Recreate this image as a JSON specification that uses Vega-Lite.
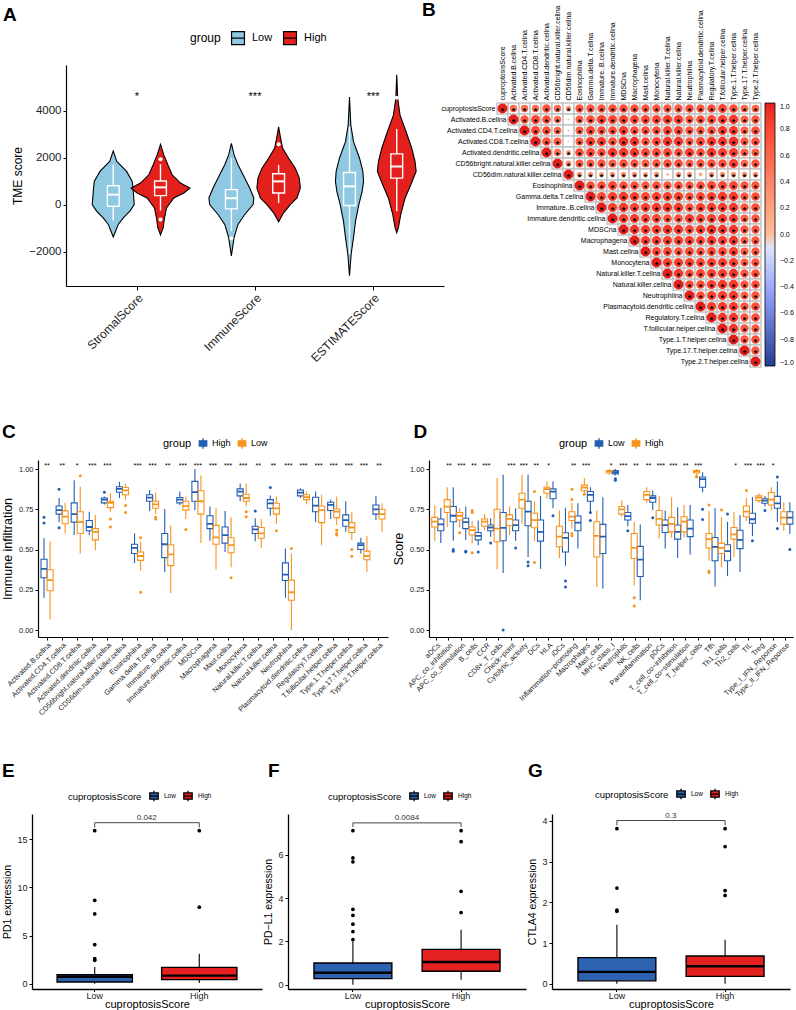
{
  "$schema": "https://vega.github.io/schema/vega-lite/v6.json",
  "autosize": {"type": "pad"},
  "padding": {"left": 0, "top": 1, "right": 0, "bottom": 0},
  "config": {
    "font": "Liberation Sans",
    "view": {"stroke": null},
    "axis": {"grid": false, "domainColor": "black", "tickColor": "black", "labelColor": "#222", "titleColor": "black", "titleFontWeight": "normal", "labelFont": "Liberation Sans", "titleFont": "Liberation Sans"},
    "legend": {"titleFontWeight": "normal", "labelFont": "Liberation Sans", "titleFont": "Liberation Sans", "titleColor": "black", "labelColor": "black"}
  },
  "datasets": {
    "Avio": [
      {"cat": "StromalScore", "grp": "Low", "y": 2295, "w": 0}, {"cat": "StromalScore", "grp": "Low", "y": 1845, "w": 0.03}, {"cat": "StromalScore", "grp": "Low", "y": 1422, "w": 0.113}, {"cat": "StromalScore", "grp": "Low", "y": 1000, "w": 0.161}, {"cat": "StromalScore", "grp": "Low", "y": 577, "w": 0.169}, {"cat": "StromalScore", "grp": "Low", "y": 14, "w": 0.178}, {"cat": "StromalScore", "grp": "Low", "y": -267, "w": 0.141}, {"cat": "StromalScore", "grp": "Low", "y": -549, "w": 0.085}, {"cat": "StromalScore", "grp": "Low", "y": -830, "w": 0.042}, {"cat": "StromalScore", "grp": "Low", "y": -1112, "w": 0.02}, {"cat": "StromalScore", "grp": "Low", "y": -1366, "w": 0},
      {"cat": "StromalScore", "grp": "High", "y": 2577, "w": 0}, {"cat": "StromalScore", "grp": "High", "y": 2126, "w": 0.028}, {"cat": "StromalScore", "grp": "High", "y": 1704, "w": 0.062}, {"cat": "StromalScore", "grp": "High", "y": 1281, "w": 0.099}, {"cat": "StromalScore", "grp": "High", "y": 930, "w": 0.169}, {"cat": "StromalScore", "grp": "High", "y": 718, "w": 0.249}, {"cat": "StromalScore", "grp": "High", "y": 507, "w": 0.198}, {"cat": "StromalScore", "grp": "High", "y": 296, "w": 0.113}, {"cat": "StromalScore", "grp": "High", "y": -127, "w": 0.051}, {"cat": "StromalScore", "grp": "High", "y": -549, "w": 0.034}, {"cat": "StromalScore", "grp": "High", "y": -971, "w": 0.023}, {"cat": "StromalScore", "grp": "High", "y": -1281, "w": 0},
      {"cat": "ImmuneScore", "grp": "Low", "y": 2619, "w": 0}, {"cat": "ImmuneScore", "grp": "Low", "y": 2126, "w": 0.023}, {"cat": "ImmuneScore", "grp": "Low", "y": 1704, "w": 0.056}, {"cat": "ImmuneScore", "grp": "Low", "y": 1281, "w": 0.099}, {"cat": "ImmuneScore", "grp": "Low", "y": 718, "w": 0.155}, {"cat": "ImmuneScore", "grp": "Low", "y": 296, "w": 0.19}, {"cat": "ImmuneScore", "grp": "Low", "y": 14, "w": 0.184}, {"cat": "ImmuneScore", "grp": "Low", "y": -408, "w": 0.113}, {"cat": "ImmuneScore", "grp": "Low", "y": -830, "w": 0.056}, {"cat": "ImmuneScore", "grp": "Low", "y": -1394, "w": 0.023}, {"cat": "ImmuneScore", "grp": "Low", "y": -2168, "w": 0},
      {"cat": "ImmuneScore", "grp": "High", "y": 3323, "w": 0}, {"cat": "ImmuneScore", "grp": "High", "y": 2830, "w": 0.017}, {"cat": "ImmuneScore", "grp": "High", "y": 2408, "w": 0.034}, {"cat": "ImmuneScore", "grp": "High", "y": 1985, "w": 0.085}, {"cat": "ImmuneScore", "grp": "High", "y": 1563, "w": 0.141}, {"cat": "ImmuneScore", "grp": "High", "y": 1140, "w": 0.175}, {"cat": "ImmuneScore", "grp": "High", "y": 718, "w": 0.184}, {"cat": "ImmuneScore", "grp": "High", "y": 296, "w": 0.155}, {"cat": "ImmuneScore", "grp": "High", "y": 14, "w": 0.099}, {"cat": "ImmuneScore", "grp": "High", "y": -338, "w": 0.042}, {"cat": "ImmuneScore", "grp": "High", "y": -718, "w": 0},
      {"cat": "ESTIMATEScore", "grp": "Low", "y": 4590, "w": 0}, {"cat": "ESTIMATEScore", "grp": "Low", "y": 3393, "w": 0.011}, {"cat": "ESTIMATEScore", "grp": "Low", "y": 2689, "w": 0.034}, {"cat": "ESTIMATEScore", "grp": "Low", "y": 1985, "w": 0.085}, {"cat": "ESTIMATEScore", "grp": "Low", "y": 1422, "w": 0.113}, {"cat": "ESTIMATEScore", "grp": "Low", "y": 1000, "w": 0.119}, {"cat": "ESTIMATEScore", "grp": "Low", "y": 577, "w": 0.107}, {"cat": "ESTIMATEScore", "grp": "Low", "y": 14, "w": 0.079}, {"cat": "ESTIMATEScore", "grp": "Low", "y": -690, "w": 0.051}, {"cat": "ESTIMATEScore", "grp": "Low", "y": -1394, "w": 0.034}, {"cat": "ESTIMATEScore", "grp": "Low", "y": -2098, "w": 0.014}, {"cat": "ESTIMATEScore", "grp": "Low", "y": -3013, "w": 0},
      {"cat": "ESTIMATEScore", "grp": "High", "y": 5533, "w": 0}, {"cat": "ESTIMATEScore", "grp": "High", "y": 4520, "w": 0.008}, {"cat": "ESTIMATEScore", "grp": "High", "y": 3816, "w": 0.028}, {"cat": "ESTIMATEScore", "grp": "High", "y": 3112, "w": 0.079}, {"cat": "ESTIMATEScore", "grp": "High", "y": 2408, "w": 0.127}, {"cat": "ESTIMATEScore", "grp": "High", "y": 1845, "w": 0.155}, {"cat": "ESTIMATEScore", "grp": "High", "y": 1422, "w": 0.164}, {"cat": "ESTIMATEScore", "grp": "High", "y": 859, "w": 0.119}, {"cat": "ESTIMATEScore", "grp": "High", "y": 296, "w": 0.071}, {"cat": "ESTIMATEScore", "grp": "High", "y": -408, "w": 0.034}, {"cat": "ESTIMATEScore", "grp": "High", "y": -971, "w": 0.014}, {"cat": "ESTIMATEScore", "grp": "High", "y": -1183, "w": 0}
    ],
    "Abox": [
      {"cat": "StromalScore", "grp": "Low", "lo": -662, "q1": -56, "m": 436, "q3": 817, "hi": 1704},
      {"cat": "StromalScore", "grp": "High", "lo": -239, "q1": 394, "m": 746, "q3": 1014, "hi": 1732},
      {"cat": "ImmuneScore", "grp": "Low", "lo": -1112, "q1": -169, "m": 282, "q3": 648, "hi": 1985},
      {"cat": "ImmuneScore", "grp": "High", "lo": 84, "q1": 507, "m": 1000, "q3": 1323, "hi": 1704},
      {"cat": "ESTIMATEScore", "grp": "Low", "lo": -2098, "q1": -28, "m": 789, "q3": 1380, "hi": 3323},
      {"cat": "ESTIMATEScore", "grp": "High", "lo": -268, "q1": 1140, "m": 1633, "q3": 2168, "hi": 3224}
    ],
    "Aout": [
      {"cat": "StromalScore", "grp": "High", "v": 1943}, {"cat": "StromalScore", "grp": "High", "v": -620},
      {"cat": "ImmuneScore", "grp": "Low", "v": -1422}, {"cat": "ImmuneScore", "grp": "High", "v": 2577},
      {"cat": "ESTIMATEScore", "grp": "High", "v": 4562}
    ],
    "names": [
      {"i": 0, "n": "cuproptosisScore"}, {"i": 1, "n": "Activated.B.cellna"}, {"i": 2, "n": "Activated.CD4.T.cellna"}, {"i": 3, "n": "Activated.CD8.T.cellna"}, {"i": 4, "n": "Activated.dendritic.cellna"}, {"i": 5, "n": "CD56bright.natural.killer.cellna"}, {"i": 6, "n": "CD56dim.natural.killer.cellna"}, {"i": 7, "n": "Eosinophilna"}, {"i": 8, "n": "Gamma.delta.T.cellna"}, {"i": 9, "n": "Immature..B.cellna"}, {"i": 10, "n": "Immature.dendritic.cellna"}, {"i": 11, "n": "MDSCna"}, {"i": 12, "n": "Macrophagena"}, {"i": 13, "n": "Mast.cellna"}, {"i": 14, "n": "Monocytena"}, {"i": 15, "n": "Natural.killer.T.cellna"}, {"i": 16, "n": "Natural.killer.cellna"}, {"i": 17, "n": "Neutrophilna"}, {"i": 18, "n": "Plasmacytoid.dendritic.cellna"}, {"i": 19, "n": "Regulatory.T.cellna"}, {"i": 20, "n": "T.follicular.helper.cellna"}, {"i": 21, "n": "Type.1.T.helper.cellna"}, {"i": 22, "n": "Type.17.T.helper.cellna"}, {"i": 23, "n": "Type.2.T.helper.cellna"}
    ],
    "corr": [
      {"i":0,"j":0,"r":1},{"i":0,"j":1,"r":0.55},{"i":0,"j":2,"r":0.55},{"i":0,"j":3,"r":0.55},{"i":0,"j":4,"r":0.7},{"i":0,"j":5,"r":0.55},{"i":0,"j":6,"r":0.3},{"i":0,"j":7,"r":0.7},{"i":0,"j":8,"r":0.7},{"i":0,"j":9,"r":0.7},{"i":0,"j":10,"r":0.75},{"i":0,"j":11,"r":0.75},{"i":0,"j":12,"r":0.75},{"i":0,"j":13,"r":0.7},{"i":0,"j":14,"r":0.7},{"i":0,"j":15,"r":0.7},{"i":0,"j":16,"r":0.7},{"i":0,"j":17,"r":0.75},{"i":0,"j":18,"r":0.7},{"i":0,"j":19,"r":0.75},{"i":0,"j":20,"r":0.8},{"i":0,"j":21,"r":0.75},{"i":0,"j":22,"r":0.6},{"i":0,"j":23,"r":0.6},
      {"i":1,"j":1,"r":1},{"i":1,"j":2,"r":0.7},{"i":1,"j":3,"r":0.8},{"i":1,"j":4,"r":0.75},{"i":1,"j":5,"r":0.55},{"i":1,"j":6,"r":0.05,"ns":1},{"i":1,"j":7,"r":0.65},{"i":1,"j":8,"r":0.75},{"i":1,"j":9,"r":0.85},{"i":1,"j":10,"r":0.8},{"i":1,"j":11,"r":0.85},{"i":1,"j":12,"r":0.8},{"i":1,"j":13,"r":0.8},{"i":1,"j":14,"r":0.8},{"i":1,"j":15,"r":0.85},{"i":1,"j":16,"r":0.85},{"i":1,"j":17,"r":0.7},{"i":1,"j":18,"r":0.75},{"i":1,"j":19,"r":0.8},{"i":1,"j":20,"r":0.85},{"i":1,"j":21,"r":0.88},{"i":1,"j":22,"r":0.65},{"i":1,"j":23,"r":0.7},
      {"i":2,"j":2,"r":1},{"i":2,"j":3,"r":0.8},{"i":2,"j":4,"r":0.75},{"i":2,"j":5,"r":0.6},{"i":2,"j":6,"r":0.05,"ns":1},{"i":2,"j":7,"r":0.65},{"i":2,"j":8,"r":0.8},{"i":2,"j":9,"r":0.75},{"i":2,"j":10,"r":0.75},{"i":2,"j":11,"r":0.85},{"i":2,"j":12,"r":0.75},{"i":2,"j":13,"r":0.75},{"i":2,"j":14,"r":0.75},{"i":2,"j":15,"r":0.8},{"i":2,"j":16,"r":0.8},{"i":2,"j":17,"r":0.7},{"i":2,"j":18,"r":0.7},{"i":2,"j":19,"r":0.75},{"i":2,"j":20,"r":0.85},{"i":2,"j":21,"r":0.85},{"i":2,"j":22,"r":0.65},{"i":2,"j":23,"r":0.75},
      {"i":3,"j":3,"r":1},{"i":3,"j":4,"r":0.75},{"i":3,"j":5,"r":0.65},{"i":3,"j":6,"r":0.03,"ns":1},{"i":3,"j":7,"r":0.65},{"i":3,"j":8,"r":0.85},{"i":3,"j":9,"r":0.85},{"i":3,"j":10,"r":0.75},{"i":3,"j":11,"r":0.92},{"i":3,"j":12,"r":0.88},{"i":3,"j":13,"r":0.75},{"i":3,"j":14,"r":0.8},{"i":3,"j":15,"r":0.88},{"i":3,"j":16,"r":0.88},{"i":3,"j":17,"r":0.7},{"i":3,"j":18,"r":0.8},{"i":3,"j":19,"r":0.88},{"i":3,"j":20,"r":0.88},{"i":3,"j":21,"r":0.92},{"i":3,"j":22,"r":0.7},{"i":3,"j":23,"r":0.75},
      {"i":4,"j":4,"r":1},{"i":4,"j":5,"r":0.55},{"i":4,"j":6,"r":0.25},{"i":4,"j":7,"r":0.75},{"i":4,"j":8,"r":0.8},{"i":4,"j":9,"r":0.75},{"i":4,"j":10,"r":0.88},{"i":4,"j":11,"r":0.88},{"i":4,"j":12,"r":0.88},{"i":4,"j":13,"r":0.8},{"i":4,"j":14,"r":0.8},{"i":4,"j":15,"r":0.8},{"i":4,"j":16,"r":0.75},{"i":4,"j":17,"r":0.85},{"i":4,"j":18,"r":0.75},{"i":4,"j":19,"r":0.88},{"i":4,"j":20,"r":0.85},{"i":4,"j":21,"r":0.85},{"i":4,"j":22,"r":0.65},{"i":4,"j":23,"r":0.65},
      {"i":5,"j":5,"r":1},{"i":5,"j":6,"r":0.35},{"i":5,"j":7,"r":0.65},{"i":5,"j":8,"r":0.65},{"i":5,"j":9,"r":0.7},{"i":5,"j":10,"r":0.65},{"i":5,"j":11,"r":0.75},{"i":5,"j":12,"r":0.7},{"i":5,"j":13,"r":0.65},{"i":5,"j":14,"r":0.7},{"i":5,"j":15,"r":0.75},{"i":5,"j":16,"r":0.75},{"i":5,"j":17,"r":0.65},{"i":5,"j":18,"r":0.7},{"i":5,"j":19,"r":0.75},{"i":5,"j":20,"r":0.75},{"i":5,"j":21,"r":0.85},{"i":5,"j":22,"r":0.6},{"i":5,"j":23,"r":0.7},
      {"i":6,"j":6,"r":1},{"i":6,"j":7,"r":0.3},{"i":6,"j":8,"r":0.3},{"i":6,"j":9,"r":0.25},{"i":6,"j":10,"r":0.3},{"i":6,"j":11,"r":0.3},{"i":6,"j":12,"r":0.3},{"i":6,"j":13,"r":0.25},{"i":6,"j":14,"r":0.3},{"i":6,"j":15,"r":0.08,"ns":1},{"i":6,"j":16,"r":0.3},{"i":6,"j":17,"r":0.3},{"i":6,"j":18,"r":0.15,"ns":1},{"i":6,"j":19,"r":0.3},{"i":6,"j":20,"r":0.3},{"i":6,"j":21,"r":0.3},{"i":6,"j":22,"r":0.3},{"i":6,"j":23,"r":0.3},
      {"i":7,"j":7,"r":1},{"i":7,"j":8,"r":0.75},{"i":7,"j":9,"r":0.75},{"i":7,"j":10,"r":0.8},{"i":7,"j":11,"r":0.75},{"i":7,"j":12,"r":0.75},{"i":7,"j":13,"r":0.7},{"i":7,"j":14,"r":0.75},{"i":7,"j":15,"r":0.7},{"i":7,"j":16,"r":0.75},{"i":7,"j":17,"r":0.7},{"i":7,"j":18,"r":0.75},{"i":7,"j":19,"r":0.8},{"i":7,"j":20,"r":0.8},{"i":7,"j":21,"r":0.8},{"i":7,"j":22,"r":0.7},{"i":7,"j":23,"r":0.7},
      {"i":8,"j":8,"r":1},{"i":8,"j":9,"r":0.8},{"i":8,"j":10,"r":0.85},{"i":8,"j":11,"r":0.88},{"i":8,"j":12,"r":0.85},{"i":8,"j":13,"r":0.8},{"i":8,"j":14,"r":0.85},{"i":8,"j":15,"r":0.85},{"i":8,"j":16,"r":0.85},{"i":8,"j":17,"r":0.75},{"i":8,"j":18,"r":0.8},{"i":8,"j":19,"r":0.85},{"i":8,"j":20,"r":0.88},{"i":8,"j":21,"r":0.88},{"i":8,"j":22,"r":0.7},{"i":8,"j":23,"r":0.75},
      {"i":9,"j":9,"r":1},{"i":9,"j":10,"r":0.85},{"i":9,"j":11,"r":0.88},{"i":9,"j":12,"r":0.85},{"i":9,"j":13,"r":0.85},{"i":9,"j":14,"r":0.88},{"i":9,"j":15,"r":0.88},{"i":9,"j":16,"r":0.88},{"i":9,"j":17,"r":0.75},{"i":9,"j":18,"r":0.85},{"i":9,"j":19,"r":0.88},{"i":9,"j":20,"r":0.88},{"i":9,"j":21,"r":0.88},{"i":9,"j":22,"r":0.7},{"i":9,"j":23,"r":0.75},
      {"i":10,"j":10,"r":1},{"i":10,"j":11,"r":0.85},{"i":10,"j":12,"r":0.85},{"i":10,"j":13,"r":0.8},{"i":10,"j":14,"r":0.8},{"i":10,"j":15,"r":0.75},{"i":10,"j":16,"r":0.75},{"i":10,"j":17,"r":0.85},{"i":10,"j":18,"r":0.8},{"i":10,"j":19,"r":0.85},{"i":10,"j":20,"r":0.85},{"i":10,"j":21,"r":0.85},{"i":10,"j":22,"r":0.65},{"i":10,"j":23,"r":0.7},
      {"i":11,"j":11,"r":1},{"i":11,"j":12,"r":0.88},{"i":11,"j":13,"r":0.85},{"i":11,"j":14,"r":0.85},{"i":11,"j":15,"r":0.88},{"i":11,"j":16,"r":0.88},{"i":11,"j":17,"r":0.8},{"i":11,"j":18,"r":0.85},{"i":11,"j":19,"r":0.92},{"i":11,"j":20,"r":0.88},{"i":11,"j":21,"r":0.88},{"i":11,"j":22,"r":0.7},{"i":11,"j":23,"r":0.7},
      {"i":12,"j":12,"r":1},{"i":12,"j":13,"r":0.85},{"i":12,"j":14,"r":0.85},{"i":12,"j":15,"r":0.85},{"i":12,"j":16,"r":0.85},{"i":12,"j":17,"r":0.85},{"i":12,"j":18,"r":0.8},{"i":12,"j":19,"r":0.88},{"i":12,"j":20,"r":0.85},{"i":12,"j":21,"r":0.88},{"i":12,"j":22,"r":0.65},{"i":12,"j":23,"r":0.7},
      {"i":13,"j":13,"r":1},{"i":13,"j":14,"r":0.8},{"i":13,"j":15,"r":0.8},{"i":13,"j":16,"r":0.75},{"i":13,"j":17,"r":0.8},{"i":13,"j":18,"r":0.75},{"i":13,"j":19,"r":0.8},{"i":13,"j":20,"r":0.8},{"i":13,"j":21,"r":0.85},{"i":13,"j":22,"r":0.65},{"i":13,"j":23,"r":0.7},
      {"i":14,"j":14,"r":1},{"i":14,"j":15,"r":0.85},{"i":14,"j":16,"r":0.85},{"i":14,"j":17,"r":0.85},{"i":14,"j":18,"r":0.8},{"i":14,"j":19,"r":0.85},{"i":14,"j":20,"r":0.85},{"i":14,"j":21,"r":0.85},{"i":14,"j":22,"r":0.65},{"i":14,"j":23,"r":0.7},
      {"i":15,"j":15,"r":1},{"i":15,"j":16,"r":0.88},{"i":15,"j":17,"r":0.75},{"i":15,"j":18,"r":0.8},{"i":15,"j":19,"r":0.85},{"i":15,"j":20,"r":0.85},{"i":15,"j":21,"r":0.88},{"i":15,"j":22,"r":0.7},{"i":15,"j":23,"r":0.75},
      {"i":16,"j":16,"r":1},{"i":16,"j":17,"r":0.75},{"i":16,"j":18,"r":0.75},{"i":16,"j":19,"r":0.85},{"i":16,"j":20,"r":0.88},{"i":16,"j":21,"r":0.88},{"i":16,"j":22,"r":0.7},{"i":16,"j":23,"r":0.75},
      {"i":17,"j":17,"r":1},{"i":17,"j":18,"r":0.75},{"i":17,"j":19,"r":0.85},{"i":17,"j":20,"r":0.85},{"i":17,"j":21,"r":0.88},{"i":17,"j":22,"r":0.65},{"i":17,"j":23,"r":0.7},
      {"i":18,"j":18,"r":1},{"i":18,"j":19,"r":0.85},{"i":18,"j":20,"r":0.85},{"i":18,"j":21,"r":0.85},{"i":18,"j":22,"r":0.7},{"i":18,"j":23,"r":0.75},
      {"i":19,"j":19,"r":1},{"i":19,"j":20,"r":0.88},{"i":19,"j":21,"r":0.88},{"i":19,"j":22,"r":0.7},{"i":19,"j":23,"r":0.75},
      {"i":20,"j":20,"r":1},{"i":20,"j":21,"r":0.88},{"i":20,"j":22,"r":0.7},{"i":20,"j":23,"r":0.7},
      {"i":21,"j":21,"r":1},{"i":21,"j":22,"r":0.7},{"i":21,"j":23,"r":0.75},
      {"i":22,"j":22,"r":1},{"i":22,"j":23,"r":0.7},
      {"i":23,"j":23,"r":1}
    ],
    "Cbox": [
      {"c":"Activated.B.cellna","g":"High","lo":0.2,"q1":0.325,"m":0.38,"q3":0.44,"hi":0.57},{"c":"Activated.B.cellna","g":"Low","lo":0.065,"q1":0.244,"m":0.31,"q3":0.375,"hi":0.55},
      {"c":"Activated.CD4.T.cellna","g":"High","lo":0.67,"q1":0.72,"m":0.745,"q3":0.77,"hi":0.82},{"c":"Activated.CD4.T.cellna","g":"Low","lo":0.6,"q1":0.66,"m":0.705,"q3":0.74,"hi":0.79},
      {"c":"Activated.CD8.T.cellna","g":"High","lo":0.59,"q1":0.67,"m":0.72,"q3":0.79,"hi":0.93},{"c":"Activated.CD8.T.cellna","g":"Low","lo":0.475,"q1":0.6,"m":0.67,"q3":0.735,"hi":0.89},
      {"c":"Activated.dendritic.cellna","g":"High","lo":0.59,"q1":0.617,"m":0.64,"q3":0.68,"hi":0.735},{"c":"Activated.dendritic.cellna","g":"Low","lo":0.495,"q1":0.56,"m":0.61,"q3":0.63,"hi":0.715},
      {"c":"CD56bright.natural.killer.cellna","g":"High","lo":0.78,"q1":0.79,"m":0.81,"q3":0.82,"hi":0.83},{"c":"CD56bright.natural.killer.cellna","g":"Low","lo":0.735,"q1":0.76,"m":0.79,"q3":0.8,"hi":0.85},
      {"c":"CD56dim.natural.killer.cellna","g":"High","lo":0.82,"q1":0.856,"m":0.877,"q3":0.89,"hi":0.92},{"c":"CD56dim.natural.killer.cellna","g":"Low","lo":0.81,"q1":0.84,"m":0.867,"q3":0.885,"hi":0.91},
      {"c":"Eosinophilna","g":"High","lo":0.417,"q1":0.475,"m":0.51,"q3":0.533,"hi":0.6},{"c":"Eosinophilna","g":"Low","lo":0.37,"q1":0.433,"m":0.46,"q3":0.485,"hi":0.55},
      {"c":"Gamma.delta.T.cellna","g":"High","lo":0.74,"q1":0.8,"m":0.823,"q3":0.84,"hi":0.87},{"c":"Gamma.delta.T.cellna","g":"Low","lo":0.72,"q1":0.756,"m":0.78,"q3":0.8,"hi":0.854},
      {"c":"Immature..B.cellna","g":"High","lo":0.36,"q1":0.45,"m":0.533,"q3":0.6,"hi":0.752},{"c":"Immature..B.cellna","g":"Low","lo":0.23,"q1":0.4,"m":0.47,"q3":0.53,"hi":0.65},
      {"c":"Immature.dendritic.cellna","g":"High","lo":0.777,"q1":0.79,"m":0.81,"q3":0.823,"hi":0.86},{"c":"Immature.dendritic.cellna","g":"Low","lo":0.69,"q1":0.745,"m":0.77,"q3":0.8,"hi":0.83},
      {"c":"MDSCna","g":"High","lo":0.745,"q1":0.8,"m":0.856,"q3":0.923,"hi":1.0},{"c":"MDSCna","g":"Low","lo":0.54,"q1":0.72,"m":0.8,"q3":0.865,"hi":0.96},
      {"c":"Macrophagena","g":"High","lo":0.555,"q1":0.63,"m":0.66,"q3":0.71,"hi":0.767},{"c":"Macrophagena","g":"Low","lo":0.375,"q1":0.533,"m":0.575,"q3":0.65,"hi":0.76},
      {"c":"Mast.cellna","g":"High","lo":0.485,"q1":0.54,"m":0.59,"q3":0.64,"hi":0.74},{"c":"Mast.cellna","g":"Low","lo":0.39,"q1":0.48,"m":0.527,"q3":0.573,"hi":0.7},
      {"c":"Monocytena","g":"High","lo":0.8,"q1":0.833,"m":0.86,"q3":0.877,"hi":0.91},{"c":"Monocytena","g":"Low","lo":0.767,"q1":0.8,"m":0.82,"q3":0.843,"hi":0.91},
      {"c":"Natural.killer.T.cellna","g":"High","lo":0.552,"q1":0.6,"m":0.625,"q3":0.645,"hi":0.695},{"c":"Natural.killer.T.cellna","g":"Low","lo":0.51,"q1":0.57,"m":0.6,"q3":0.637,"hi":0.69},
      {"c":"Natural.killer.cellna","g":"High","lo":0.71,"q1":0.756,"m":0.787,"q3":0.81,"hi":0.835},{"c":"Natural.killer.cellna","g":"Low","lo":0.66,"q1":0.72,"m":0.756,"q3":0.787,"hi":0.83},
      {"c":"Neutrophilna","g":"High","lo":0.2,"q1":0.308,"m":0.344,"q3":0.417,"hi":0.506},{"c":"Neutrophilna","g":"Low","lo":0.0,"q1":0.185,"m":0.235,"q3":0.31,"hi":0.475},
      {"c":"Plasmacytoid.dendritic.cellna","g":"High","lo":0.82,"q1":0.833,"m":0.854,"q3":0.87,"hi":0.88},{"c":"Plasmacytoid.dendritic.cellna","g":"Low","lo":0.78,"q1":0.81,"m":0.825,"q3":0.84,"hi":0.86},
      {"c":"Regulatory.T.cellna","g":"High","lo":0.67,"q1":0.735,"m":0.773,"q3":0.825,"hi":0.86},{"c":"Regulatory.T.cellna","g":"Low","lo":0.527,"q1":0.667,"m":0.745,"q3":0.77,"hi":0.84},
      {"c":"T.follicular.helper.cellna","g":"High","lo":0.69,"q1":0.742,"m":0.777,"q3":0.794,"hi":0.81},{"c":"T.follicular.helper.cellna","g":"Low","lo":0.652,"q1":0.698,"m":0.735,"q3":0.752,"hi":0.83},
      {"c":"Type.1.T.helper.cellna","g":"High","lo":0.61,"q1":0.645,"m":0.683,"q3":0.715,"hi":0.8},{"c":"Type.1.T.helper.cellna","g":"Low","lo":0.56,"q1":0.606,"m":0.637,"q3":0.667,"hi":0.735},
      {"c":"Type.17.T.helper.cellna","g":"High","lo":0.475,"q1":0.5,"m":0.527,"q3":0.54,"hi":0.573},{"c":"Type.17.T.helper.cellna","g":"Low","lo":0.36,"q1":0.437,"m":0.46,"q3":0.49,"hi":0.585},
      {"c":"Type.2.T.helper.cellna","g":"High","lo":0.683,"q1":0.72,"m":0.75,"q3":0.777,"hi":0.833},{"c":"Type.2.T.helper.cellna","g":"Low","lo":0.61,"q1":0.69,"m":0.72,"q3":0.75,"hi":0.787}
    ],
    "Cout": [
      {"c":"Activated.B.cellna","g":"High","v":0.7},{"c":"Activated.B.cellna","g":"High","v":0.665},
      {"c":"Activated.CD4.T.cellna","g":"High","v":0.875},{"c":"Activated.CD4.T.cellna","g":"High","v":0.635},
      {"c":"Activated.CD8.T.cellna","g":"Low","v":0.958},
      {"c":"CD56bright.natural.killer.cellna","g":"High","v":0.856},{"c":"CD56bright.natural.killer.cellna","g":"Low","v":0.69},{"c":"CD56bright.natural.killer.cellna","g":"Low","v":0.64},
      {"c":"CD56dim.natural.killer.cellna","g":"Low","v":0.773},{"c":"CD56dim.natural.killer.cellna","g":"Low","v":0.73},
      {"c":"Eosinophilna","g":"Low","v":0.573},{"c":"Eosinophilna","g":"Low","v":0.235},
      {"c":"Gamma.delta.T.cellna","g":"Low","v":0.7},{"c":"Gamma.delta.T.cellna","g":"Low","v":0.69},
      {"c":"Immature.dendritic.cellna","g":"Low","v":0.625},
      {"c":"Mast.cellna","g":"Low","v":0.325},
      {"c":"Monocytena","g":"Low","v":0.735},{"c":"Monocytena","g":"Low","v":0.704},
      {"c":"Natural.killer.T.cellna","g":"High","v":0.74},
      {"c":"Natural.killer.cellna","g":"High","v":0.885},{"c":"Natural.killer.cellna","g":"Low","v":0.617},
      {"c":"Neutrophilna","g":"Low","v":0.506},
      {"c":"T.follicular.helper.cellna","g":"Low","v":0.62},{"c":"T.follicular.helper.cellna","g":"Low","v":0.6},{"c":"T.follicular.helper.cellna","g":"Low","v":0.59},
      {"c":"Type.1.T.helper.cellna","g":"Low","v":0.5},{"c":"Type.1.T.helper.cellna","g":"Low","v":0.458}
    ],
    "Cstar": [
      {"c":"Activated.B.cellna","s":"**"},{"c":"Activated.CD4.T.cellna","s":"**"},{"c":"Activated.CD8.T.cellna","s":"*"},{"c":"Activated.dendritic.cellna","s":"***"},{"c":"CD56bright.natural.killer.cellna","s":"***"},{"c":"Eosinophilna","s":"***"},{"c":"Gamma.delta.T.cellna","s":"***"},{"c":"Immature..B.cellna","s":"**"},{"c":"Immature.dendritic.cellna","s":"***"},{"c":"MDSCna","s":"***"},{"c":"Macrophagena","s":"***"},{"c":"Mast.cellna","s":"***"},{"c":"Monocytena","s":"***"},{"c":"Natural.killer.T.cellna","s":"**"},{"c":"Natural.killer.cellna","s":"**"},{"c":"Neutrophilna","s":"***"},{"c":"Plasmacytoid.dendritic.cellna","s":"***"},{"c":"Regulatory.T.cellna","s":"***"},{"c":"T.follicular.helper.cellna","s":"***"},{"c":"Type.1.T.helper.cellna","s":"***"},{"c":"Type.17.T.helper.cellna","s":"***"},{"c":"Type.2.T.helper.cellna","s":"**"}
    ],
    "Dbox": [
      {"c":"aDCs","g":"Low","lo":0.54,"q1":0.617,"m":0.656,"q3":0.69,"hi":0.76},{"c":"aDCs","g":"High","lo":0.555,"q1":0.64,"m":0.673,"q3":0.7,"hi":0.773},
      {"c":"APC_co_inhibition","g":"Low","lo":0.555,"q1":0.673,"m":0.71,"q3":0.767,"hi":0.887},{"c":"APC_co_inhibition","g":"High","lo":0.64,"q1":0.73,"m":0.767,"q3":0.81,"hi":0.887},
      {"c":"APC_co_stimulation","g":"Low","lo":0.56,"q1":0.63,"m":0.67,"q3":0.694,"hi":0.767},{"c":"APC_co_stimulation","g":"High","lo":0.638,"q1":0.683,"m":0.71,"q3":0.73,"hi":0.756},
      {"c":"B_cells","g":"Low","lo":0.527,"q1":0.56,"m":0.585,"q3":0.606,"hi":0.68},{"c":"B_cells","g":"High","lo":0.537,"q1":0.59,"m":0.62,"q3":0.64,"hi":0.677},
      {"c":"CCR","g":"Low","lo":0.58,"q1":0.617,"m":0.637,"q3":0.652,"hi":0.694},{"c":"CCR","g":"High","lo":0.62,"q1":0.645,"m":0.673,"q3":0.69,"hi":0.72},
      {"c":"CD8+_T_cells","g":"Low","lo":0.354,"q1":0.555,"m":0.635,"q3":0.73,"hi":0.965},{"c":"CD8+_T_cells","g":"High","lo":0.377,"q1":0.548,"m":0.63,"q3":0.75,"hi":0.944},
      {"c":"Check−point","g":"Low","lo":0.555,"q1":0.617,"m":0.652,"q3":0.683,"hi":0.756},{"c":"Check−point","g":"High","lo":0.59,"q1":0.648,"m":0.69,"q3":0.715,"hi":0.767},
      {"c":"Cytolytic_activity","g":"Low","lo":0.454,"q1":0.648,"m":0.735,"q3":0.8,"hi":0.965},{"c":"Cytolytic_activity","g":"High","lo":0.66,"q1":0.756,"m":0.81,"q3":0.85,"hi":0.965},
      {"c":"DCs","g":"Low","lo":0.38,"q1":0.552,"m":0.61,"q3":0.683,"hi":0.833},{"c":"DCs","g":"High","lo":0.552,"q1":0.635,"m":0.683,"q3":0.725,"hi":0.8},
      {"c":"HLA","g":"Low","lo":0.756,"q1":0.815,"m":0.86,"q3":0.877,"hi":0.923},{"c":"HLA","g":"High","lo":0.815,"q1":0.85,"m":0.875,"q3":0.887,"hi":0.923},
      {"c":"iDCs","g":"Low","lo":0.4,"q1":0.485,"m":0.573,"q3":0.604,"hi":0.76},{"c":"iDCs","g":"High","lo":0.448,"q1":0.517,"m":0.58,"q3":0.645,"hi":0.742},
      {"c":"Inflammation−promoting","g":"Low","lo":0.506,"q1":0.617,"m":0.667,"q3":0.708,"hi":0.787},{"c":"Inflammation−promoting","g":"High","lo":0.63,"q1":0.68,"m":0.704,"q3":0.735,"hi":0.79},
      {"c":"Macrophages","g":"Low","lo":0.735,"q1":0.8,"m":0.84,"q3":0.86,"hi":0.887},{"c":"Macrophages","g":"High","lo":0.85,"q1":0.865,"m":0.885,"q3":0.9,"hi":0.944},
      {"c":"Mast_cells","g":"Low","lo":0.256,"q1":0.475,"m":0.58,"q3":0.656,"hi":0.825},{"c":"Mast_cells","g":"High","lo":0.267,"q1":0.454,"m":0.585,"q3":0.673,"hi":0.742},
      {"c":"MHC_class_I","g":"Low","lo":0.96,"q1":0.97,"m":0.98,"q3":0.99,"hi":1.0},{"c":"MHC_class_I","g":"High","lo":0.965,"q1":0.975,"m":0.985,"q3":0.99,"hi":1.0},
      {"c":"Neutrophils","g":"Low","lo":0.645,"q1":0.683,"m":0.708,"q3":0.73,"hi":0.777},{"c":"Neutrophils","g":"High","lo":0.704,"q1":0.72,"m":0.75,"q3":0.767,"hi":0.804},
      {"c":"NK_cells","g":"Low","lo":0.185,"q1":0.333,"m":0.437,"q3":0.52,"hi":0.656},{"c":"NK_cells","g":"High","lo":0.277,"q1":0.444,"m":0.51,"q3":0.6,"hi":0.673},
      {"c":"Parainflammation","g":"Low","lo":0.746,"q1":0.794,"m":0.82,"q3":0.833,"hi":0.867},{"c":"Parainflammation","g":"High","lo":0.79,"q1":0.81,"m":0.84,"q3":0.86,"hi":0.887},
      {"c":"pDCs","g":"Low","lo":0.506,"q1":0.606,"m":0.652,"q3":0.683,"hi":0.742},{"c":"pDCs","g":"High","lo":0.569,"q1":0.652,"m":0.69,"q3":0.742,"hi":0.833},
      {"c":"T_cell_co−inhibition","g":"Low","lo":0.448,"q1":0.565,"m":0.61,"q3":0.652,"hi":0.762},{"c":"T_cell_co−inhibition","g":"High","lo":0.573,"q1":0.61,"m":0.66,"q3":0.7,"hi":0.825},
      {"c":"T_cell_co−stimulation","g":"Low","lo":0.47,"q1":0.58,"m":0.63,"q3":0.683,"hi":0.777},{"c":"T_cell_co−stimulation","g":"High","lo":0.575,"q1":0.61,"m":0.673,"q3":0.704,"hi":0.777},
      {"c":"T_helper_cells","g":"Low","lo":0.856,"q1":0.887,"m":0.937,"q3":0.95,"hi":0.98},{"c":"T_helper_cells","g":"High","lo":0.965,"q1":0.975,"m":0.985,"q3":0.99,"hi":1.0},
      {"c":"Tfh","g":"Low","lo":0.27,"q1":0.43,"m":0.517,"q3":0.575,"hi":0.756},{"c":"Tfh","g":"High","lo":0.43,"q1":0.51,"m":0.565,"q3":0.6,"hi":0.74},
      {"c":"Th1_cells","g":"Low","lo":0.335,"q1":0.43,"m":0.49,"q3":0.53,"hi":0.673},{"c":"Th1_cells","g":"High","lo":0.39,"q1":0.475,"m":0.51,"q3":0.54,"hi":0.7},
      {"c":"Th2_cells","g":"Low","lo":0.36,"q1":0.506,"m":0.56,"q3":0.62,"hi":0.715},{"c":"Th2_cells","g":"High","lo":0.454,"q1":0.565,"m":0.594,"q3":0.637,"hi":0.735},
      {"c":"TIL","g":"Low","lo":0.583,"q1":0.663,"m":0.688,"q3":0.725,"hi":0.825},{"c":"TIL","g":"High","lo":0.677,"q1":0.704,"m":0.735,"q3":0.77,"hi":0.82},
      {"c":"Treg","g":"Low","lo":0.767,"q1":0.787,"m":0.804,"q3":0.815,"hi":0.833},{"c":"Treg","g":"High","lo":0.79,"q1":0.804,"m":0.823,"q3":0.833,"hi":0.85},
      {"c":"Type_I_IFN_Reponse","g":"Low","lo":0.673,"q1":0.756,"m":0.787,"q3":0.83,"hi":0.923},{"c":"Type_I_IFN_Reponse","g":"High","lo":0.742,"q1":0.777,"m":0.81,"q3":0.854,"hi":0.887},
      {"c":"Type_II_IFN_Reponse","g":"Low","lo":0.596,"q1":0.658,"m":0.698,"q3":0.735,"hi":0.794},{"c":"Type_II_IFN_Reponse","g":"High","lo":0.617,"q1":0.658,"m":0.698,"q3":0.735,"hi":0.794}
    ],
    "Dout": [
      {"c":"APC_co_inhibition","g":"Low","v":0.5},{"c":"APC_co_inhibition","g":"Low","v":0.49},
      {"c":"APC_co_stimulation","g":"Low","v":0.49},{"c":"APC_co_stimulation","g":"Low","v":0.485},{"c":"APC_co_stimulation","g":"High","v":0.604},
      {"c":"B_cells","g":"Low","v":0.485},{"c":"B_cells","g":"High","v":0.742},{"c":"B_cells","g":"High","v":0.73},{"c":"B_cells","g":"High","v":0.48},
      {"c":"CCR","g":"Low","v":0.54},
      {"c":"CD8+_T_cells","g":"Low","v":0.0},
      {"c":"Check−point","g":"Low","v":0.51},
      {"c":"Cytolytic_activity","g":"Low","v":0.423},{"c":"Cytolytic_activity","g":"Low","v":0.4},
      {"c":"DCs","g":"High","v":0.86},{"c":"DCs","g":"High","v":0.42},
      {"c":"HLA","g":"Low","v":0.71},
      {"c":"iDCs","g":"Low","v":0.304},{"c":"iDCs","g":"Low","v":0.267},
      {"c":"Inflammation−promoting","g":"High","v":0.875},{"c":"Inflammation−promoting","g":"High","v":0.81},{"c":"Inflammation−promoting","g":"High","v":0.6},{"c":"Inflammation−promoting","g":"High","v":0.585},
      {"c":"Macrophages","g":"Low","v":0.73},{"c":"Macrophages","g":"Low","v":0.68},{"c":"Macrophages","g":"High","v":0.844},
      {"c":"MHC_class_I","g":"Low","v":0.94},{"c":"MHC_class_I","g":"Low","v":0.93},
      {"c":"Neutrophils","g":"Low","v":0.617},
      {"c":"NK_cells","g":"High","v":0.2},{"c":"NK_cells","g":"High","v":0.15},
      {"c":"Parainflammation","g":"Low","v":0.698},
      {"c":"T_helper_cells","g":"Low","v":0.75},{"c":"T_helper_cells","g":"Low","v":0.687},{"c":"T_helper_cells","g":"High","v":0.955},{"c":"T_helper_cells","g":"High","v":0.95},
      {"c":"Tfh","g":"High","v":0.777},{"c":"Tfh","g":"High","v":0.367},{"c":"Tfh","g":"High","v":0.357},
      {"c":"Th1_cells","g":"Low","v":0.72},{"c":"Th1_cells","g":"High","v":0.745},
      {"c":"TIL","g":"Low","v":0.554},{"c":"TIL","g":"High","v":0.867},
      {"c":"Treg","g":"Low","v":0.742},
      {"c":"Type_I_IFN_Reponse","g":"Low","v":0.95},{"c":"Type_I_IFN_Reponse","g":"Low","v":0.63},
      {"c":"Type_II_IFN_Reponse","g":"Low","v":0.5}
    ],
    "Dstar": [
      {"c":"APC_co_inhibition","s":"**"},{"c":"APC_co_stimulation","s":"***"},{"c":"B_cells","s":"**"},{"c":"CCR","s":"***"},{"c":"Check−point","s":"***"},{"c":"Cytolytic_activity","s":"***"},{"c":"DCs","s":"**"},{"c":"HLA","s":"*"},{"c":"Inflammation−promoting","s":"**"},{"c":"Macrophages","s":"***"},{"c":"MHC_class_I","s":"*"},{"c":"Neutrophils","s":"***"},{"c":"NK_cells","s":"**"},{"c":"Parainflammation","s":"**"},{"c":"pDCs","s":"***"},{"c":"T_cell_co−inhibition","s":"***"},{"c":"T_cell_co−stimulation","s":"**"},{"c":"T_helper_cells","s":"***"},{"c":"Th2_cells","s":"*"},{"c":"TIL","s":"***"},{"c":"Treg","s":"***"},{"c":"Type_I_IFN_Reponse","s":"*"}
    ],
    "Ebox": [
      {"g":"Low","lo":0.02,"q1":0.2,"m":0.75,"q3":0.96,"hi":1.76},
      {"g":"High","lo":0.1,"q1":0.45,"m":0.86,"q3":1.72,"hi":3.14}
    ],
    "Eout": [
      {"g":"Low","v":15.87},{"g":"Low","v":8.66},{"g":"Low","v":7.25},{"g":"Low","v":4.07},{"g":"Low","v":2.62},{"g":"Low","v":2.45},
      {"g":"High","v":15.87},{"g":"High","v":7.95}
    ],
    "Fbox": [
      {"g":"Low","lo":0.0,"q1":0.28,"m":0.55,"q3":1.0,"hi":2.0},
      {"g":"High","lo":0.23,"q1":0.62,"m":1.05,"q3":1.63,"hi":2.53}
    ],
    "Fout": [
      {"g":"Low","v":7.11},{"g":"Low","v":5.85},{"g":"Low","v":5.67},{"g":"Low","v":3.48},{"g":"Low","v":3.2},{"g":"Low","v":2.79},{"g":"Low","v":2.45},{"g":"Low","v":2.08},
      {"g":"High","v":7.11},{"g":"High","v":6.6},{"g":"High","v":4.31},{"g":"High","v":3.33}
    ],
    "Gbox": [
      {"g":"Low","lo":0.0,"q1":0.07,"m":0.29,"q3":0.64,"hi":1.45},
      {"g":"High","lo":0.0,"q1":0.18,"m":0.43,"q3":0.68,"hi":1.08}
    ],
    "Gout": [
      {"g":"Low","v":3.81},{"g":"Low","v":2.35},{"g":"Low","v":1.81},{"g":"Low","v":1.78},
      {"g":"High","v":3.81},{"g":"High","v":3.37},{"g":"High","v":2.29},{"g":"High","v":2.17}
    ]
  },
  "spacing": 28,
  "resolve": {"scale": {"color": "independent", "size": "independent"}, "legend": {"color": "independent", "size": "independent"}},
  "vconcat": [
    {
      "bounds": "flush",
      "spacing": 0,
      "resolve": {"scale": {"color": "independent", "size": "independent"}, "legend": {"color": "independent", "size": "independent"}},
      "hconcat": [
        {"width": 66, "height": 330, "data": {"values": []}, "mark": "text",
         "title": {"text": "A", "anchor": "start", "frame": "group", "orient": "top", "offset": 25, "dx": 3, "fontSize": 19, "fontWeight": "bold", "baseline": "alphabetic", "color": "black"}},
        {
          "width": 378,
          "height": 221,
          "layer": [
            {
              "data": {"name": "Avio"},
              "transform": [
                {"calculate": "indexof(['StromalScore','ImmuneScore','ESTIMATEScore'], datum.cat) + 1 + (datum.grp === 'Low' ? -0.2 : 0.2)", "as": "xc"},
                {"calculate": "datum.xc - datum.w", "as": "xl"},
                {"calculate": "datum.xc + datum.w", "as": "xr"}
              ],
              "mark": {"type": "area", "orient": "horizontal", "stroke": "black", "strokeWidth": 1.1, "opacity": 1},
              "encoding": {
                "y": {"field": "y", "type": "quantitative", "scale": {"domain": [-3450, 5950], "nice": false, "zero": false},
                      "axis": {"title": "TME score", "values": [-2000, 0, 2000, 4000], "format": "d", "labelFontSize": 11.5, "titleFontSize": 12, "tickSize": 3, "domainWidth": 1.2, "titlePadding": 4}},
                "x": {"field": "xl", "type": "quantitative", "scale": {"domain": [0.4, 3.6], "nice": false, "zero": false},
                      "axis": {"title": null, "values": [1, 2, 3], "labelExpr": "['','StromalScore','ImmuneScore','ESTIMATEScore'][datum.value]", "labelAngle": -45, "labelAlign": "right", "labelBaseline": "top", "labelFontSize": 12, "tickSize": 4, "domainWidth": 1.2, "labelPadding": 2}},
                "x2": {"field": "xr"},
                "color": {"field": "grp", "type": "nominal", "scale": {"domain": ["Low", "High"], "range": ["#8EC8E2", "#E3201C"]},
                          "legend": {"orient": "none", "legendX": 124, "legendY": -36, "direction": "horizontal", "title": "group", "titleOrient": "left", "titleFontSize": 12, "labelFontSize": 11, "symbolType": "M-0.8,-0.8H0.8V0.8H-0.8Z M-0.8,0H0.8", "symbolSize": 260, "symbolStrokeColor": "black", "symbolStrokeWidth": 1.2, "symbolOpacity": 1, "columnPadding": 8, "labelOffset": 5, "titlePadding": 8}},
                "detail": {"field": "cat"}
              }
            },
            {
              "data": {"name": "Abox"},
              "transform": [
                {"calculate": "indexof(['StromalScore','ImmuneScore','ESTIMATEScore'], datum.cat) + 1 + (datum.grp === 'Low' ? -0.2 : 0.2)", "as": "xc"},
                {"calculate": "datum.xc - 0.05", "as": "xl"},
                {"calculate": "datum.xc + 0.05", "as": "xr"}
              ],
              "layer": [
                {"mark": {"type": "rule", "color": "white", "strokeWidth": 1.4},
                 "encoding": {"x": {"field": "xc", "type": "quantitative", "title": null}, "y": {"field": "lo", "type": "quantitative", "title": "TME score"}, "y2": {"field": "q1"}}},
                {"mark": {"type": "rule", "color": "white", "strokeWidth": 1.4},
                 "encoding": {"x": {"field": "xc", "type": "quantitative", "title": null}, "y": {"field": "q3", "type": "quantitative", "title": "TME score"}, "y2": {"field": "hi"}}},
                {"mark": {"type": "rect", "filled": false, "color": "white", "strokeWidth": 1.4},
                 "encoding": {"x": {"field": "xl", "type": "quantitative", "title": null}, "x2": {"field": "xr"}, "y": {"field": "q1", "type": "quantitative", "title": "TME score"}, "y2": {"field": "q3"}}},
                {"mark": {"type": "rule", "color": "white", "strokeWidth": 2},
                 "encoding": {"x": {"field": "xl", "type": "quantitative", "title": null}, "x2": {"field": "xr"}, "y": {"field": "m", "type": "quantitative", "title": "TME score"}}}
              ]
            },
            {
              "data": {"name": "Aout"},
              "transform": [
                {"calculate": "indexof(['StromalScore','ImmuneScore','ESTIMATEScore'], datum.cat) + 1 + (datum.grp === 'Low' ? -0.2 : 0.2)", "as": "xc"}
              ],
              "mark": {"type": "point", "filled": true, "color": "white", "size": 16, "opacity": 1},
              "encoding": {"x": {"field": "xc", "type": "quantitative", "title": null}, "y": {"field": "v", "type": "quantitative", "title": "TME score"}}
            },
            {
              "data": {"values": [{"x": 1, "s": "*"}, {"x": 2, "s": "***"}, {"x": 3, "s": "***"}]},
              "mark": {"type": "text", "fontSize": 11, "baseline": "middle", "dy": 3, "color": "black"},
              "encoding": {"x": {"field": "x", "type": "quantitative", "title": null}, "y": {"datum": 4731, "type": "quantitative"}, "text": {"field": "s"}}
            }
          ]
        },
        {"width": 53, "height": 1, "data": {"values": []}, "mark": "text",
         "title": {"text": "B", "anchor": "start", "frame": "group", "orient": "top", "offset": 30, "dx": -22, "fontSize": 19, "fontWeight": "bold", "baseline": "alphabetic", "color": "black"}},
        {
          "width": 264,
          "height": 302,
          "encoding": {
            "x": {"field": "j", "type": "ordinal", "scale": {"domain": [0,1,2,3,4,5,6,7,8,9,10,11,12,13,14,15,16,17,18,19,20,21,22,23], "paddingInner": 0, "paddingOuter": 0}, "axis": null},
            "y": {"field": "i", "type": "ordinal", "scale": {"domain": [0,1,2,3,4,5,6,7,8,9,10,11,12,13,14,15,16,17,18,19,20,21,22,23], "range": [38, 302], "paddingInner": 0, "paddingOuter": 0}, "axis": null}
          },
          "layer": [
            {"data": {"name": "corr"}, "mark": {"type": "rect", "fill": "white", "stroke": "#c4c4c4", "strokeWidth": 1.5}},
            {"data": {"name": "corr"}, "mark": {"type": "circle", "opacity": 1},
             "encoding": {
               "size": {"field": "r", "type": "quantitative", "scale": {"domain": [0, 1], "range": [0, 100], "zero": true}, "legend": null},
               "color": {"field": "r", "type": "quantitative", "scale": {"domain": [-1, 0, 1], "range": ["#203E8F", "#FFFFFF", "#E3201C"]},
                         "legend": {"orient": "none", "legendX": 268, "legendY": 38, "direction": "vertical", "title": null, "gradientLength": 263, "gradientThickness": 10, "values": [-1, -0.8, -0.6, -0.4, -0.2, 0, 0.2, 0.4, 0.6, 0.8, 1], "labelFontSize": 7, "labelOffset": 5, "gradientStrokeColor": "black", "gradientStrokeWidth": 0.8}}
             }},
            {"data": {"name": "corr"}, "transform": [{"filter": "!datum.ns"}],
             "mark": {"type": "text", "text": "*", "fontSize": 9, "fontWeight": "bold", "dy": 2.5, "color": "black"}},
            {"data": {"name": "names"},
             "mark": {"type": "text", "align": "right", "baseline": "middle", "dx": -7, "fontSize": 7, "color": "black"},
             "encoding": {"x": {"field": "i", "type": "ordinal"}, "y": {"field": "i", "type": "ordinal"}, "text": {"field": "n"}}},
            {"data": {"name": "names"},
             "mark": {"type": "text", "align": "left", "baseline": "middle", "angle": 270, "dx": 8, "fontSize": 7, "color": "black"},
             "encoding": {"x": {"field": "i", "type": "ordinal"}, "y": {"datum": 0, "type": "ordinal"}, "text": {"field": "n"}}}
          ]
        }
      ]
    },
    {
      "bounds": "flush",
      "spacing": 0,
      "resolve": {"scale": {"color": "independent", "size": "independent"}, "legend": {"color": "independent", "size": "independent"}},
      "hconcat": [
        {"width": 37.6, "height": 274, "data": {"values": []}, "mark": "text",
         "title": {"text": "C", "anchor": "start", "frame": "group", "orient": "top", "offset": 3, "dx": 2, "fontSize": 19, "fontWeight": "bold", "baseline": "alphabetic", "color": "black"}},
        {
          "width": 350,
          "height": 177,
          "encoding": {
            "x": {"field": "c", "type": "nominal", "sort": null,
                  "scale": {"domain": ["Activated.B.cellna","Activated.CD4.T.cellna","Activated.CD8.T.cellna","Activated.dendritic.cellna","CD56bright.natural.killer.cellna","CD56dim.natural.killer.cellna","Eosinophilna","Gamma.delta.T.cellna","Immature..B.cellna","Immature.dendritic.cellna","MDSCna","Macrophagena","Mast.cellna","Monocytena","Natural.killer.T.cellna","Natural.killer.cellna","Neutrophilna","Plasmacytoid.dendritic.cellna","Regulatory.T.cellna","T.follicular.helper.cellna","Type.1.T.helper.cellna","Type.17.T.helper.cellna","Type.2.T.helper.cellna"], "paddingInner": 0, "paddingOuter": 0.1},
                  "axis": {"title": null, "labelAngle": -45, "labelAlign": "right", "labelBaseline": "top", "labelFontSize": 7.3, "labelLimit": 0, "tickSize": 3, "domainWidth": 1.2, "labelPadding": 1}}
          },
          "layer": [
            {
              "data": {"name": "Cbox"},
              "encoding": {
                "xOffset": {"field": "g", "type": "nominal", "scale": {"domain": ["High", "Low"], "paddingInner": 0, "paddingOuter": 0.25}},
                "color": {"field": "g", "type": "nominal", "scale": {"domain": ["High", "Low"], "range": ["#235FB4", "#F7941E"]},
                          "legend": {"orient": "none", "legendX": 125, "legendY": -23, "direction": "horizontal", "title": "group", "titleOrient": "left", "titleFontSize": 11, "labelFontSize": 9, "symbolType": "M-0.7,-0.5H0.7V0.5H-0.7Z M-0.7,0H0.7 M0,-0.5V-1 M0,0.5V1", "symbolSize": 110, "symbolStrokeWidth": 1.4, "symbolFillColor": "white", "columnPadding": 4, "labelOffset": 3, "titlePadding": 5}}
              },
              "layer": [
                {"mark": {"type": "bar", "filled": false, "strokeWidth": 1.1},
                 "encoding": {"y": {"field": "q1", "type": "quantitative", "scale": {"domain": [-0.043, 1.056], "nice": false, "zero": false},
                                    "axis": {"title": "Immune infiltration", "values": [0, 0.25, 0.5, 0.75, 1], "format": ".2f", "labelFontSize": 7.5, "titleFontSize": 12.5, "tickSize": 3, "domainWidth": 1.2, "titlePadding": 4}},
                              "y2": {"field": "q3"}}},
                {"mark": {"type": "rule", "strokeWidth": 1.1},
                 "encoding": {"y": {"field": "lo", "type": "quantitative", "title": "Immune infiltration"}, "y2": {"field": "q1"}}},
                {"mark": {"type": "rule", "strokeWidth": 1.1},
                 "encoding": {"y": {"field": "q3", "type": "quantitative", "title": "Immune infiltration"}, "y2": {"field": "hi"}}},
                {"mark": {"type": "bar", "filled": false, "strokeWidth": 1.8},
                 "encoding": {"y": {"field": "m", "type": "quantitative", "title": "Immune infiltration"}, "y2": {"field": "m"}}}
              ]
            },
            {
              "data": {"name": "Cout"},
              "mark": {"type": "point", "filled": true, "size": 9, "opacity": 1},
              "encoding": {
                "xOffset": {"field": "g", "type": "nominal", "scale": {"domain": ["High", "Low"], "paddingInner": 0, "paddingOuter": 0.25}},
                "y": {"field": "v", "type": "quantitative", "title": "Immune infiltration"},
                "color": {"field": "g", "type": "nominal", "legend": null}
              }
            },
            {
              "data": {"name": "Cstar"},
              "mark": {"type": "text", "fontSize": 7, "dy": 2, "color": "black"},
              "encoding": {"y": {"datum": 1.03, "type": "quantitative"}, "text": {"field": "s"}}
            }
          ]
        },
        {"width": 41, "height": 1, "data": {"values": []}, "mark": "text",
         "title": {"text": "D", "anchor": "start", "frame": "group", "orient": "top", "offset": 3, "dx": 25.4, "fontSize": 19, "fontWeight": "bold", "baseline": "alphabetic", "color": "black"}},
        {
          "width": 364,
          "height": 177,
          "encoding": {
            "x": {"field": "c", "type": "nominal", "sort": null,
                  "scale": {"domain": ["aDCs","APC_co_inhibition","APC_co_stimulation","B_cells","CCR","CD8+_T_cells","Check−point","Cytolytic_activity","DCs","HLA","iDCs","Inflammation−promoting","Macrophages","Mast_cells","MHC_class_I","Neutrophils","NK_cells","Parainflammation","pDCs","T_cell_co−inhibition","T_cell_co−stimulation","T_helper_cells","Tfh","Th1_cells","Th2_cells","TIL","Treg","Type_I_IFN_Reponse","Type_II_IFN_Reponse"], "paddingInner": 0, "paddingOuter": 0.1},
                  "axis": {"title": null, "labelAngle": -45, "labelAlign": "right", "labelBaseline": "top", "labelFontSize": 7.3, "labelLimit": 0, "tickSize": 3, "domainWidth": 1.2, "labelPadding": 1}}
          },
          "layer": [
            {
              "data": {"name": "Dbox"},
              "encoding": {
                "xOffset": {"field": "g", "type": "nominal", "scale": {"domain": ["Low", "High"], "paddingInner": 0, "paddingOuter": 0.25}},
                "color": {"field": "g", "type": "nominal", "scale": {"domain": ["Low", "High"], "range": ["#235FB4", "#F7941E"]},
                          "legend": {"orient": "none", "legendX": 130, "legendY": -23, "direction": "horizontal", "title": "group", "titleOrient": "left", "titleFontSize": 11, "labelFontSize": 9, "symbolType": "M-0.7,-0.5H0.7V0.5H-0.7Z M-0.7,0H0.7 M0,-0.5V-1 M0,0.5V1", "symbolSize": 110, "symbolStrokeWidth": 1.4, "symbolFillColor": "white", "columnPadding": 4, "labelOffset": 3, "titlePadding": 5}}
              },
              "layer": [
                {"mark": {"type": "bar", "filled": false, "strokeWidth": 1.1},
                 "encoding": {"y": {"field": "q1", "type": "quantitative", "scale": {"domain": [-0.043, 1.056], "nice": false, "zero": false},
                                    "axis": {"title": "Score", "values": [0, 0.25, 0.5, 0.75, 1], "format": ".2f", "labelFontSize": 7.5, "titleFontSize": 12.5, "tickSize": 3, "domainWidth": 1.2, "titlePadding": 4}},
                              "y2": {"field": "q3"}}},
                {"mark": {"type": "rule", "strokeWidth": 1.1},
                 "encoding": {"y": {"field": "lo", "type": "quantitative", "title": "Score"}, "y2": {"field": "q1"}}},
                {"mark": {"type": "rule", "strokeWidth": 1.1},
                 "encoding": {"y": {"field": "q3", "type": "quantitative", "title": "Score"}, "y2": {"field": "hi"}}},
                {"mark": {"type": "bar", "filled": false, "strokeWidth": 1.8},
                 "encoding": {"y": {"field": "m", "type": "quantitative", "title": "Score"}, "y2": {"field": "m"}}}
              ]
            },
            {
              "data": {"name": "Dout"},
              "mark": {"type": "point", "filled": true, "size": 9, "opacity": 1},
              "encoding": {
                "xOffset": {"field": "g", "type": "nominal", "scale": {"domain": ["Low", "High"], "paddingInner": 0, "paddingOuter": 0.25}},
                "y": {"field": "v", "type": "quantitative", "title": "Score"},
                "color": {"field": "g", "type": "nominal", "legend": null}
              }
            },
            {
              "data": {"name": "Dstar"},
              "mark": {"type": "text", "fontSize": 7, "dy": 2, "color": "black"},
              "encoding": {"y": {"datum": 1.03, "type": "quantitative"}, "text": {"field": "s"}}
            }
          ]
        }
      ]
    },
    {
      "bounds": "flush",
      "spacing": 0,
      "resolve": {"scale": {"color": "independent", "size": "independent"}, "legend": {"color": "independent", "size": "independent"}},
      "hconcat": [
        {"width": 32, "height": 1, "data": {"values": []}, "mark": "text",
         "title": {"text": "E", "anchor": "start", "frame": "group", "orient": "top", "offset": 18, "dx": 2, "fontSize": 19, "fontWeight": "bold", "baseline": "alphabetic", "color": "black"}},
        {
          "width": 230,
          "height": 175,
          "encoding": {
            "x": {"field": "g", "type": "nominal", "sort": null, "scale": {"domain": ["Low", "High"], "paddingInner": 0, "paddingOuter": 0.1},
                  "axis": {"title": "cuproptosisScore", "labelAngle": 0, "labelFontSize": 9, "titleFontSize": 11, "tickSize": 2.5, "domainWidth": 1.3, "titlePadding": -2, "labelPadding": 0}}
          },
          "layer": [
            {
              "data": {"name": "Ebox"},
              "layer": [
                {"mark": {"type": "rule", "color": "black", "strokeWidth": 1.1},
                 "encoding": {"y": {"field": "lo", "type": "quantitative", "scale": {"domain": [-0.52, 17.6], "nice": false, "zero": false},
                                    "axis": {"title": "PD1 expression", "values": [0, 5, 10, 15], "labelFontSize": 9, "titleFontSize": 10.5, "tickSize": 3, "domainWidth": 1.3, "titlePadding": 4}},
                              "y2": {"field": "hi"}}},
                {"mark": {"type": "bar", "stroke": "black", "strokeWidth": 1.4, "width": {"band": 0.72}},
                 "encoding": {"y": {"field": "q1", "type": "quantitative", "title": "PD1 expression"}, "y2": {"field": "q3"},
                              "color": {"field": "g", "type": "nominal", "scale": {"domain": ["Low", "High"], "range": ["#2D62B0", "#E42020"]},
                                        "legend": {"orient": "none", "legendX": 36, "legendY": -24, "direction": "horizontal", "title": "cuproptosisScore", "titleOrient": "left", "titleFontSize": 9.5, "labelFontSize": 6.5, "symbolType": "M-0.8,-0.6H0.8V0.6H-0.8Z M-0.8,0H0.8 M0,-0.6V-1 M0,0.6V1", "symbolSize": 110, "symbolStrokeColor": "black", "symbolStrokeWidth": 1.3, "symbolOpacity": 1, "columnPadding": 5, "labelOffset": 4, "titlePadding": 6}}}},
                {"mark": {"type": "bar", "filled": false, "color": "black", "strokeWidth": 2.4, "width": {"band": 0.72}},
                 "encoding": {"y": {"field": "m", "type": "quantitative", "title": "PD1 expression"}, "y2": {"field": "m"}}}
              ]
            },
            {
              "data": {"name": "Eout"},
              "mark": {"type": "point", "filled": true, "color": "black", "size": 14, "opacity": 1},
              "encoding": {"y": {"field": "v", "type": "quantitative", "title": "PD1 expression"}}
            },
            {
              "data": {"values": [{"a": "Low", "b": "High", "y1": 16.2, "y2": 16.7, "p": "0.042"}]},
              "layer": [
                {"mark": {"type": "rule", "color": "#333", "strokeWidth": 0.9}, "encoding": {"x": {"field": "a", "type": "nominal"}, "x2": {"field": "b"}, "y": {"field": "y2", "type": "quantitative", "title": "PD1 expression"}}},
                {"mark": {"type": "rule", "color": "#333", "strokeWidth": 0.9}, "encoding": {"x": {"field": "a", "type": "nominal"}, "y": {"field": "y1", "type": "quantitative", "title": "PD1 expression"}, "y2": {"field": "y2"}}},
                {"mark": {"type": "rule", "color": "#333", "strokeWidth": 0.9}, "encoding": {"x": {"field": "b", "type": "nominal"}, "y": {"field": "y1", "type": "quantitative", "title": "PD1 expression"}, "y2": {"field": "y2"}}},
                {"mark": {"type": "text", "fontSize": 8, "baseline": "bottom", "dx": 52, "dy": -1, "color": "#333"}, "encoding": {"x": {"field": "a", "type": "nominal"}, "y": {"field": "y2", "type": "quantitative"}, "text": {"field": "p"}}}
              ]
            }
          ]
        },
        {"width": 26, "height": 1, "data": {"values": []}, "mark": "text",
         "title": {"text": "F", "anchor": "start", "frame": "group", "orient": "top", "offset": 18, "dx": 6, "fontSize": 19, "fontWeight": "bold", "baseline": "alphabetic", "color": "black"}},
        {
          "width": 238,
          "height": 175,
          "encoding": {
            "x": {"field": "g", "type": "nominal", "sort": null, "scale": {"domain": ["Low", "High"], "paddingInner": 0, "paddingOuter": 0.1},
                  "axis": {"title": "cuproptosisScore", "labelAngle": 0, "labelFontSize": 9, "titleFontSize": 11, "tickSize": 2.5, "domainWidth": 1.3, "titlePadding": -2, "labelPadding": 0}}
          },
          "layer": [
            {
              "data": {"name": "Fbox"},
              "layer": [
                {"mark": {"type": "rule", "color": "black", "strokeWidth": 1.1},
                 "encoding": {"y": {"field": "lo", "type": "quantitative", "scale": {"domain": [-0.2, 7.88], "nice": false, "zero": false},
                                    "axis": {"title": "PD−L1 expression", "values": [0, 2, 4, 6], "labelFontSize": 9, "titleFontSize": 10.5, "tickSize": 3, "domainWidth": 1.3, "titlePadding": 4}},
                              "y2": {"field": "hi"}}},
                {"mark": {"type": "bar", "stroke": "black", "strokeWidth": 1.4, "width": {"band": 0.72}},
                 "encoding": {"y": {"field": "q1", "type": "quantitative", "title": "PD−L1 expression"}, "y2": {"field": "q3"},
                              "color": {"field": "g", "type": "nominal", "scale": {"domain": ["Low", "High"], "range": ["#2D62B0", "#E42020"]},
                                        "legend": {"orient": "none", "legendX": 40, "legendY": -24, "direction": "horizontal", "title": "cuproptosisScore", "titleOrient": "left", "titleFontSize": 9.5, "labelFontSize": 6.5, "symbolType": "M-0.8,-0.6H0.8V0.6H-0.8Z M-0.8,0H0.8 M0,-0.6V-1 M0,0.6V1", "symbolSize": 110, "symbolStrokeColor": "black", "symbolStrokeWidth": 1.3, "symbolOpacity": 1, "columnPadding": 5, "labelOffset": 4, "titlePadding": 6}}}},
                {"mark": {"type": "bar", "filled": false, "color": "black", "strokeWidth": 2.4, "width": {"band": 0.72}},
                 "encoding": {"y": {"field": "m", "type": "quantitative", "title": "PD−L1 expression"}, "y2": {"field": "m"}}}
              ]
            },
            {
              "data": {"name": "Fout"},
              "mark": {"type": "point", "filled": true, "color": "black", "size": 14, "opacity": 1},
              "encoding": {"y": {"field": "v", "type": "quantitative", "title": "PD−L1 expression"}}
            },
            {
              "data": {"values": [{"a": "Low", "b": "High", "y1": 7.28, "y2": 7.47, "p": "0.0084"}]},
              "layer": [
                {"mark": {"type": "rule", "color": "#333", "strokeWidth": 0.9}, "encoding": {"x": {"field": "a", "type": "nominal"}, "x2": {"field": "b"}, "y": {"field": "y2", "type": "quantitative", "title": "PD−L1 expression"}}},
                {"mark": {"type": "rule", "color": "#333", "strokeWidth": 0.9}, "encoding": {"x": {"field": "a", "type": "nominal"}, "y": {"field": "y1", "type": "quantitative", "title": "PD−L1 expression"}, "y2": {"field": "y2"}}},
                {"mark": {"type": "rule", "color": "#333", "strokeWidth": 0.9}, "encoding": {"x": {"field": "b", "type": "nominal"}, "y": {"field": "y1", "type": "quantitative", "title": "PD−L1 expression"}, "y2": {"field": "y2"}}},
                {"mark": {"type": "text", "fontSize": 8, "baseline": "bottom", "dx": 54, "dy": -1, "color": "#333"}, "encoding": {"x": {"field": "a", "type": "nominal"}, "y": {"field": "y2", "type": "quantitative"}, "text": {"field": "p"}}}
              ]
            }
          ]
        },
        {"width": 26, "height": 1, "data": {"values": []}, "mark": "text",
         "title": {"text": "G", "anchor": "start", "frame": "group", "orient": "top", "offset": 18, "dx": 2, "fontSize": 19, "fontWeight": "bold", "baseline": "alphabetic", "color": "black"}},
        {
          "width": 238,
          "height": 175,
          "encoding": {
            "x": {"field": "g", "type": "nominal", "sort": null, "scale": {"domain": ["Low", "High"], "paddingInner": 0, "paddingOuter": 0.1},
                  "axis": {"title": "cuproptosisScore", "labelAngle": 0, "labelFontSize": 9, "titleFontSize": 11, "tickSize": 2.5, "domainWidth": 1.3, "titlePadding": -2, "labelPadding": 0}}
          },
          "layer": [
            {
              "data": {"name": "Gbox"},
              "layer": [
                {"mark": {"type": "rule", "color": "black", "strokeWidth": 1.1},
                 "encoding": {"y": {"field": "lo", "type": "quantitative", "scale": {"domain": [-0.13, 4.17], "nice": false, "zero": false},
                                    "axis": {"title": "CTLA4 expression", "values": [0, 1, 2, 3, 4], "labelFontSize": 9, "titleFontSize": 10.5, "tickSize": 3, "domainWidth": 1.3, "titlePadding": 4}},
                              "y2": {"field": "hi"}}},
                {"mark": {"type": "bar", "stroke": "black", "strokeWidth": 1.4, "width": {"band": 0.72}},
                 "encoding": {"y": {"field": "q1", "type": "quantitative", "title": "CTLA4 expression"}, "y2": {"field": "q3"},
                              "color": {"field": "g", "type": "nominal", "scale": {"domain": ["Low", "High"], "range": ["#2D62B0", "#E42020"]},
                                        "legend": {"orient": "none", "legendX": 43, "legendY": -26, "direction": "horizontal", "title": "cuproptosisScore", "titleOrient": "left", "titleFontSize": 9.5, "labelFontSize": 6.5, "symbolType": "M-0.8,-0.6H0.8V0.6H-0.8Z M-0.8,0H0.8 M0,-0.6V-1 M0,0.6V1", "symbolSize": 110, "symbolStrokeColor": "black", "symbolStrokeWidth": 1.3, "symbolOpacity": 1, "columnPadding": 5, "labelOffset": 4, "titlePadding": 6}}}},
                {"mark": {"type": "bar", "filled": false, "color": "black", "strokeWidth": 2.4, "width": {"band": 0.72}},
                 "encoding": {"y": {"field": "m", "type": "quantitative", "title": "CTLA4 expression"}, "y2": {"field": "m"}}}
              ]
            },
            {
              "data": {"name": "Gout"},
              "mark": {"type": "point", "filled": true, "color": "black", "size": 14, "opacity": 1},
              "encoding": {"y": {"field": "v", "type": "quantitative", "title": "CTLA4 expression"}}
            },
            {
              "data": {"values": [{"a": "Low", "b": "High", "y1": 3.89, "y2": 4.01, "p": "0.3"}]},
              "layer": [
                {"mark": {"type": "rule", "color": "#333", "strokeWidth": 0.9}, "encoding": {"x": {"field": "a", "type": "nominal"}, "x2": {"field": "b"}, "y": {"field": "y2", "type": "quantitative", "title": "CTLA4 expression"}}},
                {"mark": {"type": "rule", "color": "#333", "strokeWidth": 0.9}, "encoding": {"x": {"field": "a", "type": "nominal"}, "y": {"field": "y1", "type": "quantitative", "title": "CTLA4 expression"}, "y2": {"field": "y2"}}},
                {"mark": {"type": "rule", "color": "#333", "strokeWidth": 0.9}, "encoding": {"x": {"field": "b", "type": "nominal"}, "y": {"field": "y1", "type": "quantitative", "title": "CTLA4 expression"}, "y2": {"field": "y2"}}},
                {"mark": {"type": "text", "fontSize": 8, "baseline": "bottom", "dx": 54, "dy": -1, "color": "#333"}, "encoding": {"x": {"field": "a", "type": "nominal"}, "y": {"field": "y2", "type": "quantitative"}, "text": {"field": "p"}}}
              ]
            }
          ]
        }
      ]
    }
  ]
}
